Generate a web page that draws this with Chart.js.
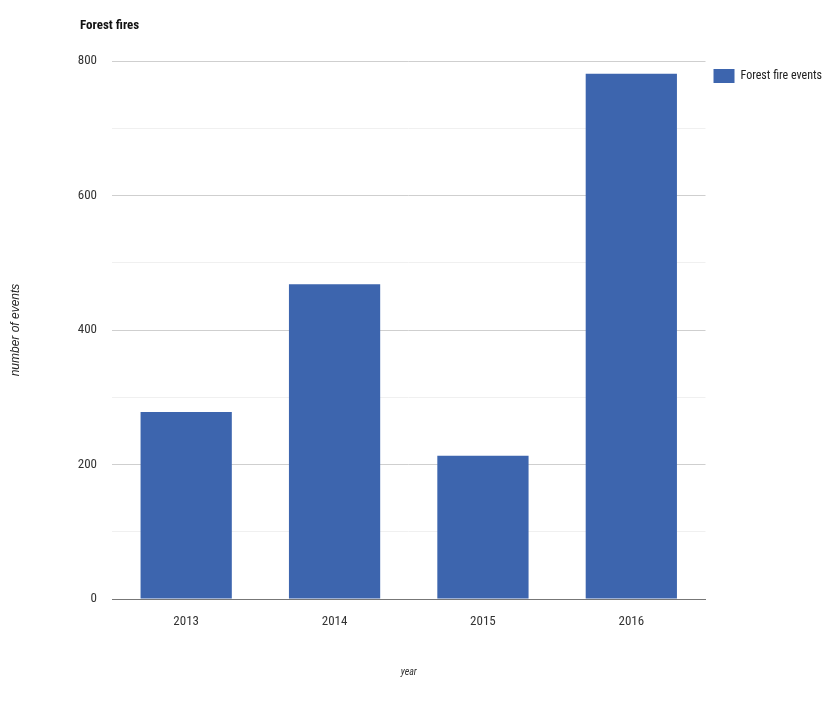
<!DOCTYPE html>
<html>
<head>
<meta charset="utf-8">
<script src="https://cdn.jsdelivr.net/npm/chart.js@4"></script>
<style>
  body { margin: 0; background: #fff; }
  #wrap { width: 822px; height: 702px; }
</style>
</head>
<body>
<div id="wrap"><canvas id="fireChart"></canvas></div>
<script>
const years = ['2013', '2014', '2015', '2016'];
const fireEvents = [278, 468, 213, 781];
const seriesName = 'Forest fire events';
const chartTitle = 'Forest fires';

const FONT = "'Liberation Sans Narrow', 'Arial Narrow', 'Roboto Condensed', Arial, sans-serif";
const BAR = '#3d65ae';

// title drawn left of chart area, like the original
const titlePlugin = {
    id: 'leftTitle',
    afterDraw(chart) {
        const ctx = chart.ctx;
        ctx.save();
        ctx.font = 'bold 13px ' + FONT;
        ctx.fillStyle = '#111';
        ctx.textBaseline = 'middle';
        ctx.fillText(chartTitle, 80, 26);
        ctx.restore();
    }
};

const ctx = document.getElementById('fireChart').getContext('2d');
new Chart(ctx, {
    type: 'bar',
    data: {
        labels: years,
        datasets: [{
            label: seriesName,
            data: fireEvents,
            backgroundColor: BAR,
            categoryPercentage: 1,
            barPercentage: 0.615
        }]
    },
    options: {
        responsive: true,
        maintainAspectRatio: false,
        animation: false,
        layout: { padding: { top: 61, left: 0, right: -10, bottom: 0 } },
        plugins: {
            legend: {
                position: 'right',
                align: 'start',
                labels: {
                    boxWidth: 21,
                    boxHeight: 14,
                    padding: 8,
                    color: '#222',
                    font: { family: FONT, size: 12 }
                }
            },
            tooltip: { enabled: false }
        },
        scales: {
            x: {
                grid: { display: false, drawTicks: false },
                border: { color: '#777' },
                ticks: { color: '#333', padding: 15, font: { family: FONT, size: 13 } },
                title: {
                    display: true, text: 'year', color: '#333',
                    font: { family: FONT, size: 10, style: 'italic' },
                    padding: { top: 0, bottom: 24 }
                },
                afterFit(scale) { scale.height = 103; }
            },
            y: {
                min: 0,
                max: 800,
                grid: {
                    drawTicks: false,
                    color: c => (c.tick && c.tick.value % 200 === 0) ? '#cfcfcf' : '#f0f0f0'
                },
                border: { display: false },
                ticks: {
                    stepSize: 100,
                    padding: 15,
                    color: '#333',
                    font: { family: FONT, size: 13 },
                    callback: v => v % 200 === 0 ? v : ''
                },
                title: {
                    display: true, text: 'number of events', color: '#222',
                    font: { family: 'Arial, sans-serif', size: 12, style: 'italic' },
                    padding: { top: 8, bottom: 0 }
                },
                afterFit(scale) { scale.width = 112; }
            }
        }
    },
    plugins: [titlePlugin]
});
</script>
</body>
</html>
